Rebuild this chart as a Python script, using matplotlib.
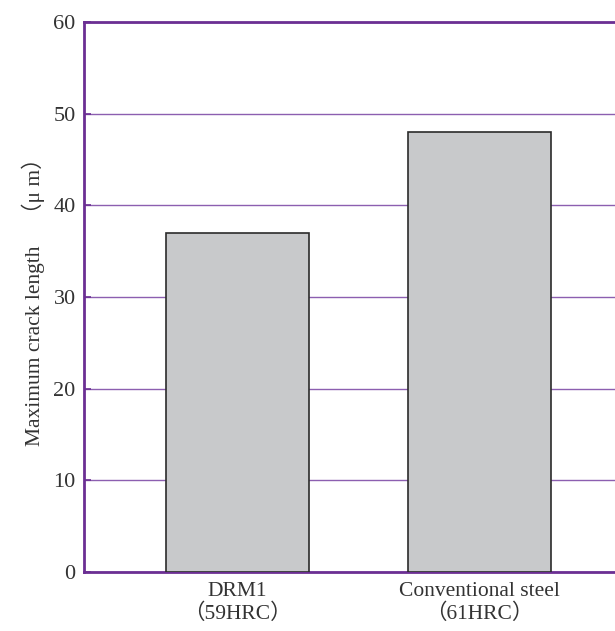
import matplotlib

matplotlib.use("Agg")
import matplotlib.pyplot as plt

# Data
categories = ["DRM1\n（59HRC）", "Conventional steel\n（61HRC）"]
crack_length = [37, 48]
y_ticks = [0, 10, 20, 30, 40, 50, 60]

FONT = ["Liberation Serif", "Noto Sans CJK JP"]
plt.rcParams["font.family"] = FONT

SPINE = "#6b2f93"
GRID = "#8c5fb0"

fig = plt.figure(figsize=(6.15, 6.31), dpi=100)
ax = fig.add_axes([84 / 615, 59 / 631, 549 / 615, 550 / 631])

x = range(len(categories))
ax.bar(x, crack_length, width=0.59, color="#c8c9cb", edgecolor="#2b2b2b",
       linewidth=1.2, zorder=3)

ax.set_xlim(-0.636, 1.636)
ax.set_ylim(0, 60)
ax.set_yticks(y_ticks)
ax.set_xticks(list(x))
ax.set_xticklabels(categories, fontsize=15.5, color="#333333", linespacing=1.2)
ax.tick_params(axis="x", length=0, pad=7)
ax.tick_params(axis="y", direction="in", length=5, width=1.2, color=SPINE,
               labelsize=16, labelcolor="#333333", pad=6)

ax.yaxis.grid(True, color=GRID, linewidth=1.0, zorder=0)
ax.set_axisbelow(True)
for side in ("left", "bottom", "top"):
    ax.spines[side].set_color(SPINE)
    ax.spines[side].set_linewidth(2.0)
ax.spines["right"].set_visible(False)

ax.set_ylabel("Maximum crack length　（μ m）", fontsize=15.5, color="#333333",
              labelpad=6)

fig.savefig("out.png", dpi=100, facecolor="white")
